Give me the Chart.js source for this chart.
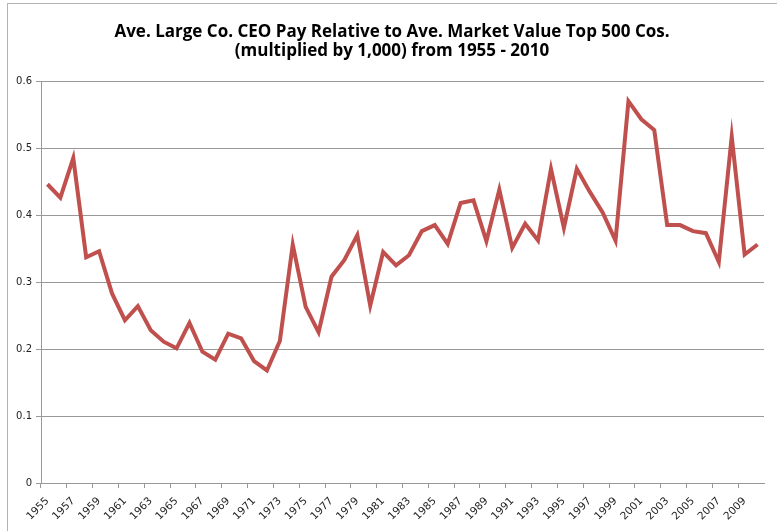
<!DOCTYPE html>
<html>
<head>
<meta charset="utf-8">
<script src="https://cdn.jsdelivr.net/npm/chart.js@4"></script>
<style>
  body { margin: 0; background: #fff; }
  #wrap { position: relative; width: 777px; height: 531px; overflow: hidden; }
  #frame { position: absolute; left: 7px; top: 3px; width: 800px; height: 600px; border: 1px solid #b4b4b4; }
  #chart-canvas { position: absolute; left: 0; top: 0; }
</style>
</head>
<body>
<div id="wrap">
  <div id="frame"></div>
  <canvas id="chart-canvas" width="777" height="531"></canvas>
</div>
<script>
// years 1955 - 2010
var years = ["1955","1956","1957","1958","1959","1960","1961","1962","1963","1964",
  "1965","1966","1967","1968","1969","1970","1971","1972","1973","1974",
  "1975","1976","1977","1978","1979","1980","1981","1982","1983","1984",
  "1985","1986","1987","1988","1989","1990","1991","1992","1993","1994",
  "1995","1996","1997","1998","1999","2000","2001","2002","2003","2004",
  "2005","2006","2007","2008","2009","2010"];

// CEO pay relative to market value (x 1,000)
var payRatio = [0.446, 0.426, 0.485, 0.337, 0.346, 0.283, 0.243, 0.264, 0.228, 0.211,
  0.201, 0.239, 0.196, 0.184, 0.223, 0.216, 0.182, 0.168, 0.212, 0.356,
  0.263, 0.225, 0.308, 0.333, 0.370, 0.265, 0.345, 0.325, 0.340, 0.376,
  0.385, 0.357, 0.418, 0.422, 0.361, 0.438, 0.351, 0.387, 0.362, 0.469,
  0.381, 0.469, 0.435, 0.404, 0.362, 0.570, 0.543, 0.527, 0.385, 0.385,
  0.376, 0.373, 0.330, 0.517, 0.341, 0.356];

var titleLines = ["Ave. Large Co. CEO Pay Relative to Ave. Market Value Top 500 Cos.",
  "(multiplied by 1,000) from 1955 - 2010"];

var yTicks = [0, 0.1, 0.2, 0.3, 0.4, 0.5, 0.6];

var ctx = document.getElementById("chart-canvas");

var chartCanvas = new Chart(ctx, {
  type: 'line',
  data: {
    labels: years,
    datasets: [
      {
        data: payRatio,
        borderColor: "#c0504d",
        borderWidth: 4,
        pointRadius: 0,
        tension: 0,
        fill: false
      }]
  },
  options: {
    responsive: false,
    animation: false,
    layout: { padding: { left: 7, right: 0, top: 0, bottom: 0 } },
    plugins: {
      legend: { display: false },
      tooltip: { enabled: false },
      title: {
        display: true,
        text: titleLines,
        color: "#000",
        font: { family: "Open Sans", size: 17, weight: "bold", lineHeight: 1.15 },
        padding: { top: 22, bottom: 20 }
      }
    },
    scales: {
      x: {
        offset: true,
        grid: {
          offset: true,
          drawOnChartArea: false,
          drawTicks: true,
          tickLength: 5,
          color: function(c) { return c.index % 2 === 0 ? "#999" : "rgba(0,0,0,0)"; }
        },
        border: { color: "#999", width: 1 },
        ticks: {
          autoSkip: false,
          maxRotation: 45,
          minRotation: 45,
          padding: 7,
          color: "#222",
          font: { family: "DejaVu Sans", size: 10.5 },
          callback: function(v, i) { return i % 2 === 0 ? years[i] : ""; }
        },
        afterFit: function(s) { s.height = 48; }
      },
      y: {
        min: 0,
        max: 0.6,
        afterBuildTicks: function(s) { s.ticks = yTicks.map(function(v) { return { value: v }; }); },
        grid: { color: "#999", lineWidth: 1, tickLength: 5 },
        border: { color: "#999", width: 1 },
        ticks: {
          color: "#222",
          padding: 4,
          font: { family: "DejaVu Sans", size: 10 },
          callback: function(v) { return v === 0 ? "0" : v.toFixed(1); }
        },
        afterFit: function(s) { s.width = 34; }
      },
      yRight: {
        position: "right",
        display: true,
        grid: { display: false, drawTicks: false },
        border: { display: false },
        ticks: { display: false },
        afterFit: function(s) { s.width = 13; }
      }
    }
  }
});
</script>
</body>
</html>
